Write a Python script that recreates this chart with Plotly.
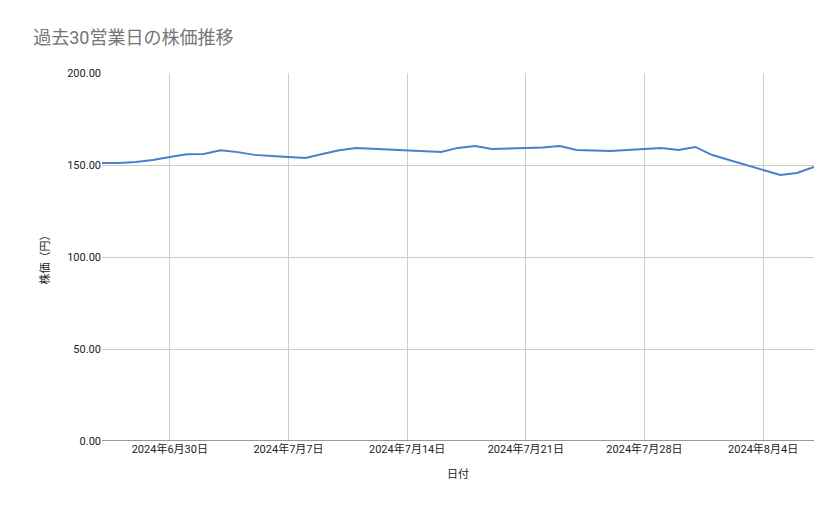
import pandas as pd
import plotly.graph_objects as go

dates = pd.date_range("2024-06-26", "2024-08-07", freq="D")
prices = [151.1, 151.1, 151.6, 152.7, 154.3, 155.9, 156.0, 158.0, 157.0, 155.5,
          154.9, 154.3, 153.8, 156.0, 158.0, 159.2, 158.7, 158.2, 157.9, 157.6,
          157.1, 159.3, 160.3, 158.7, 159.0, 159.2, 159.5, 160.3, 158.2, 157.9,
          157.6, 158.2, 158.7, 159.2, 158.2, 159.8, 155.4, 152.7, 150.0, 147.3,
          144.6, 145.7, 149.0]
tick_dates = pd.to_datetime(["2024-06-30", "2024-07-07", "2024-07-14",
                             "2024-07-21", "2024-07-28", "2024-08-04"])
tick_labels = [f"{d.year}年{d.month}月{d.day}日" for d in tick_dates]

font = "Roboto, 'Noto Sans CJK JP', sans-serif"
fig = go.Figure(go.Scatter(x=dates, y=prices, mode="lines",
                           line=dict(color="#4a7fd0", width=2)))
fig.update_layout(
    width=839, height=519, paper_bgcolor="white", plot_bgcolor="white",
    margin=dict(l=94, r=33, t=65, b=86),
    font=dict(family=font, size=11, color="#222"),
    title=dict(text="過去30営業日の株価推移", x=0.03, y=0.955, xanchor="left",
               font=dict(size=18, color="#757575")),
    showlegend=False,
)
fig.update_xaxes(range=[dates[0], dates[-1]], tickvals=tick_dates, ticktext=tick_labels,
                 showgrid=True, gridcolor="#cccccc", showline=False, zeroline=False,
                 title=dict(text="日付", font=dict(size=11)))
fig.update_yaxes(range=[0, 200], tickvals=[0, 50, 100, 150, 200], tickformat=".2f",
                 gridcolor="#cccccc", zeroline=False, showline=False, ticks="",
                 title=dict(text="株価（円）", font=dict(size=11)))
fig.add_shape(type="line", xref="paper", yref="y", x0=0, x1=1, y0=0, y1=0,
              line=dict(color="#333", width=1))
fig.write_html("out.html")
